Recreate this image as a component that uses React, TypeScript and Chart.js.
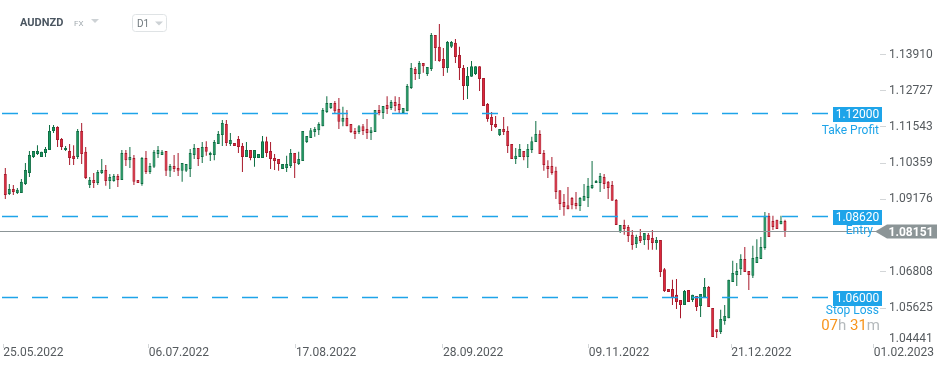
import React, { useEffect, useRef } from 'react';
import { Chart, registerables } from 'chart.js';

Chart.register(...registerables);

// ---- data (daily candles AUDNZD) ----
const opens = [
  1.1001, 1.0935, 1.0952, 1.0939, 1.0939, 1.0968, 1.1004, 1.1056, 1.1066, 1.1056,
  1.1069, 1.1079, 1.1141, 1.1154, 1.1115, 1.1079, 1.1076, 1.1060, 1.1056, 1.1141,
  1.1073, 1.0965, 1.0981, 1.0971, 1.1004, 1.1014, 1.0978, 1.0978, 1.0994, 1.0981,
  1.1069, 1.1046, 1.1053, 1.0981, 1.0968, 1.1053, 1.1007, 1.1024, 1.1066, 1.1063,
  1.1076, 1.1011, 1.1027, 1.1020, 1.1011, 1.1011, 1.1017, 1.1063, 1.1086, 1.1056,
  1.1089, 1.1063, 1.1063, 1.1099, 1.1128, 1.1164, 1.1099, 1.1102, 1.1115, 1.1092,
  1.1056, 1.1079, 1.1053, 1.1053, 1.1053, 1.1108, 1.1076, 1.1053, 1.1050, 1.1017,
  1.1020, 1.1027, 1.1069, 1.1033, 1.1043, 1.1105, 1.1118, 1.1138, 1.1144, 1.1157,
  1.1203, 1.1216, 1.1233, 1.1213, 1.1171, 1.1184, 1.1164, 1.1141, 1.1138, 1.1157,
  1.1148, 1.1135, 1.1138, 1.1210, 1.1200, 1.1226, 1.1216, 1.1236, 1.1229, 1.1200,
  1.1206, 1.1282, 1.1344, 1.1327, 1.1363, 1.1327, 1.1344, 1.1455, 1.1416, 1.1376,
  1.1347, 1.1416, 1.1429, 1.1389, 1.1347, 1.1288, 1.1318, 1.1327, 1.1353, 1.1314,
  1.1229, 1.1187, 1.1164, 1.1128, 1.1148, 1.1141, 1.1099, 1.1050, 1.1056, 1.1076,
  1.1056, 1.1079, 1.1105, 1.1131, 1.1069, 1.1027, 1.1027, 1.1011, 1.0948, 1.0909,
  1.0899, 1.0922, 1.0906, 1.0896, 1.0913, 1.0922, 1.0955, 1.0971, 1.0971, 1.0991,
  1.0975, 1.0965, 1.0916, 1.0811, 1.0834, 1.0828, 1.0802, 1.0772, 1.0798, 1.0785,
  1.0802, 1.0792, 1.0775, 1.0785, 1.0690, 1.0625, 1.0625, 1.0606, 1.0589, 1.0573,
  1.0622, 1.0589, 1.0602, 1.0570, 1.0599, 1.0632, 1.0563, 1.0494, 1.0485, 1.0521,
  1.0530, 1.0648, 1.0671, 1.0690, 1.0723, 1.0684, 1.0668, 1.0710, 1.0723, 1.0759,
  1.0864, 1.0847, 1.0851, 1.0837, 1.0847,
];
const highs = [
  1.1020, 1.0968, 1.0965, 1.0955, 1.0984, 1.1037, 1.1076, 1.1076, 1.1095, 1.1073,
  1.1089, 1.1161, 1.1161, 1.1157, 1.1118, 1.1092, 1.1099, 1.1095, 1.1148, 1.1167,
  1.1089, 1.0991, 1.1004, 1.1014, 1.1050, 1.1030, 1.1001, 1.1001, 1.1001, 1.1079,
  1.1079, 1.1089, 1.1063, 1.0981, 1.1056, 1.1076, 1.1037, 1.1079, 1.1092, 1.1079,
  1.1076, 1.1033, 1.1063, 1.1069, 1.1037, 1.1033, 1.1082, 1.1099, 1.1086, 1.1105,
  1.1108, 1.1073, 1.1112, 1.1141, 1.1177, 1.1177, 1.1135, 1.1102, 1.1125, 1.1102,
  1.1105, 1.1079, 1.1079, 1.1066, 1.1125, 1.1122, 1.1105, 1.1066, 1.1050, 1.1033,
  1.1060, 1.1082, 1.1069, 1.1073, 1.1141, 1.1125, 1.1151, 1.1154, 1.1170, 1.1216,
  1.1255, 1.1233, 1.1239, 1.1249, 1.1220, 1.1210, 1.1164, 1.1151, 1.1161, 1.1164,
  1.1180, 1.1154, 1.1210, 1.1226, 1.1223, 1.1255, 1.1242, 1.1255, 1.1252, 1.1216,
  1.1295, 1.1363, 1.1350, 1.1370, 1.1363, 1.1350, 1.1461, 1.1455, 1.1491, 1.1412,
  1.1435, 1.1435, 1.1442, 1.1416, 1.1357, 1.1350, 1.1370, 1.1353, 1.1353, 1.1314,
  1.1233, 1.1203, 1.1190, 1.1148, 1.1187, 1.1157, 1.1099, 1.1086, 1.1099, 1.1076,
  1.1099, 1.1122, 1.1174, 1.1144, 1.1079, 1.1046, 1.1056, 1.1024, 1.0948, 1.0935,
  1.0958, 1.0926, 1.0942, 1.0926, 1.0968, 1.0988, 1.1043, 1.0981, 1.1004, 1.1001,
  1.0978, 1.0978, 1.0919, 1.0834, 1.0851, 1.0834, 1.0818, 1.0802, 1.0821, 1.0808,
  1.0808, 1.0818, 1.0795, 1.0785, 1.0694, 1.0625, 1.0655, 1.0658, 1.0589, 1.0622,
  1.0622, 1.0606, 1.0602, 1.0609, 1.0661, 1.0635, 1.0563, 1.0494, 1.0557, 1.0573,
  1.0655, 1.0717, 1.0710, 1.0739, 1.0762, 1.0684, 1.0766, 1.0788, 1.0795, 1.0877,
  1.0873, 1.0864, 1.0851, 1.0864, 1.0851,
];
const lows = [
  1.0919, 1.0932, 1.0932, 1.0935, 1.0939, 1.0965, 1.0991, 1.1053, 1.1063, 1.1056,
  1.1056, 1.1079, 1.1135, 1.1089, 1.1079, 1.1076, 1.1030, 1.1030, 1.1050, 1.1033,
  1.0984, 1.0955, 1.0955, 1.0965, 1.1001, 1.0962, 1.0952, 1.0975, 1.0958, 1.0981,
  1.1027, 1.1020, 1.0965, 1.0971, 1.0962, 1.1001, 1.1001, 1.1020, 1.1053, 1.1063,
  1.0994, 1.0991, 1.1007, 1.0994, 1.0975, 1.1007, 1.0991, 1.1050, 1.1027, 1.1037,
  1.1060, 1.1043, 1.1046, 1.1099, 1.1092, 1.1092, 1.1092, 1.1092, 1.1069, 1.1007,
  1.1056, 1.1046, 1.1024, 1.1053, 1.1053, 1.1056, 1.1017, 1.1014, 1.1011, 1.1017,
  1.1007, 1.1020, 1.0988, 1.1030, 1.1043, 1.1102, 1.1118, 1.1122, 1.1128, 1.1157,
  1.1200, 1.1213, 1.1197, 1.1148, 1.1157, 1.1157, 1.1135, 1.1115, 1.1131, 1.1128,
  1.1115, 1.1112, 1.1138, 1.1193, 1.1180, 1.1197, 1.1210, 1.1206, 1.1197, 1.1197,
  1.1206, 1.1278, 1.1308, 1.1311, 1.1331, 1.1321, 1.1337, 1.1370, 1.1367, 1.1321,
  1.1331, 1.1412, 1.1363, 1.1308, 1.1242, 1.1246, 1.1318, 1.1324, 1.1272, 1.1223,
  1.1171, 1.1141, 1.1151, 1.1125, 1.1128, 1.1069, 1.1050, 1.1033, 1.1056, 1.1046,
  1.1020, 1.1069, 1.1105, 1.1066, 1.1011, 1.0988, 1.0998, 1.0919, 1.0883, 1.0864,
  1.0886, 1.0886, 1.0886, 1.0880, 1.0913, 1.0893, 1.0952, 1.0971, 1.0942, 1.0952,
  1.0919, 1.0913, 1.0834, 1.0808, 1.0802, 1.0779, 1.0753, 1.0759, 1.0775, 1.0769,
  1.0753, 1.0753, 1.0753, 1.0664, 1.0615, 1.0615, 1.0573, 1.0560, 1.0530, 1.0573,
  1.0583, 1.0583, 1.0553, 1.0534, 1.0599, 1.0566, 1.0468, 1.0465, 1.0478, 1.0508,
  1.0530, 1.0648, 1.0635, 1.0671, 1.0681, 1.0622, 1.0661, 1.0710, 1.0723, 1.0753,
  1.0795, 1.0818, 1.0821, 1.0837, 1.0795,
];
const closes = [
  1.0932, 1.0952, 1.0942, 1.0949, 1.0975, 1.1014, 1.1063, 1.1076, 1.1076, 1.1073,
  1.1082, 1.1141, 1.1154, 1.1112, 1.1089, 1.1086, 1.1053, 1.1050, 1.1141, 1.1066,
  1.0988, 1.0981, 1.0971, 1.1007, 1.1014, 1.0978, 1.0991, 1.0994, 1.0981, 1.1069,
  1.1046, 1.1056, 1.0975, 1.0971, 1.1053, 1.1007, 1.1027, 1.1073, 1.1079, 1.1073,
  1.1011, 1.1027, 1.1017, 1.1011, 1.1037, 1.1033, 1.1069, 1.1086, 1.1050, 1.1089,
  1.1073, 1.1069, 1.1105, 1.1131, 1.1167, 1.1102, 1.1112, 1.1092, 1.1089, 1.1056,
  1.1079, 1.1053, 1.1079, 1.1066, 1.1108, 1.1069, 1.1050, 1.1043, 1.1033, 1.1033,
  1.1033, 1.1069, 1.1037, 1.1050, 1.1141, 1.1125, 1.1144, 1.1148, 1.1164, 1.1210,
  1.1233, 1.1233, 1.1206, 1.1171, 1.1184, 1.1157, 1.1138, 1.1131, 1.1157, 1.1141,
  1.1135, 1.1144, 1.1210, 1.1200, 1.1223, 1.1213, 1.1236, 1.1223, 1.1210, 1.1216,
  1.1288, 1.1347, 1.1327, 1.1363, 1.1353, 1.1350, 1.1455, 1.1412, 1.1370, 1.1347,
  1.1432, 1.1432, 1.1383, 1.1347, 1.1288, 1.1321, 1.1353, 1.1353, 1.1311, 1.1223,
  1.1180, 1.1161, 1.1154, 1.1148, 1.1138, 1.1092, 1.1050, 1.1060, 1.1082, 1.1056,
  1.1082, 1.1108, 1.1131, 1.1066, 1.1030, 1.1017, 1.1004, 1.0942, 1.0903, 1.0893,
  1.0886, 1.0899, 1.0896, 1.0922, 1.0929, 1.0962, 1.0965, 1.0978, 1.0994, 1.0968,
  1.0955, 1.0913, 1.0834, 1.0834, 1.0821, 1.0798, 1.0769, 1.0795, 1.0782, 1.0808,
  1.0785, 1.0775, 1.0785, 1.0681, 1.0619, 1.0615, 1.0596, 1.0583, 1.0573, 1.0619,
  1.0583, 1.0606, 1.0566, 1.0609, 1.0632, 1.0566, 1.0468, 1.0485, 1.0527, 1.0537,
  1.0655, 1.0677, 1.0684, 1.0723, 1.0681, 1.0671, 1.0726, 1.0730, 1.0762, 1.0864,
  1.0795, 1.0828, 1.0821, 1.0847, 1.0815,
];

// x-axis date labels and the candle slot where each date falls
const dateLabels = ['25.05.2022', '06.07.2022', '17.08.2022', '28.09.2022', '09.11.2022', '21.12.2022', '01.02.2023'];
const dateTickIndex = [-0.5, 35.7, 72.3, 108.9, 145.2, 180.6, 216.1];

// price axis ticks
const priceTicks = [1.05625, 1.06808, 1.09176, 1.10359, 1.11543, 1.12727, 1.13910];
const bottomPriceTick = 1.04441;

// trade levels
const takeProfit = 1.12;
const entryLevel = 1.0862;
const stopLoss = 1.06;
const currentPrice = 1.08151;

const symbolName = 'AUDNZD';
const marketName = 'FX';
const timeframe = 'D1';
const countdownParts = [
  { t: '07', orange: true },
  { t: 'h', orange: false },
  { t: ' ', orange: false },
  { t: '31', orange: true },
  { t: 'm', orange: false },
];

const GREEN = '#1a9a62';
const GREEN_DARK = '#0e6e43';
const RED = '#e2293d';
const RED_DARK = '#a8182a';
const BLUE = '#1ea4e9';
const FONT = 'Roboto, "Noto Sans", sans-serif';

export default function App() {
  const ref = useRef<HTMLCanvasElement | null>(null);

  useEffect(() => {
    document.body.style.margin = '0';
    const canvas = ref.current;
    if (!canvas) return;

    const isUp = (i: number) => closes[i] >= opens[i];
    const wickData = opens.map((_, i) => ({ x: i, y: [lows[i], highs[i]] }));
    const bodyData = opens.map((o, i) => ({ x: i, y: [Math.min(o, closes[i]), Math.max(o, closes[i])] }));

    const overlay = {
      id: 'overlay',
      afterDatasetsDraw(chart: any) {
        const { ctx, scales } = chart;
        const y = scales.y;
        ctx.save();
        const levels = [
          { v: takeProfit, label: 'Take Profit', dy: 17 },
          { v: entryLevel, label: 'Entry', dy: 14 },
          { v: stopLoss, label: 'Stop Loss', dy: 13 },
        ];
        // current price line
        const cy = Math.round(y.getPixelForValue(currentPrice)) + 0.5;
        ctx.strokeStyle = '#8c9597';
        ctx.lineWidth = 1;
        ctx.setLineDash([]);
        ctx.beginPath();
        ctx.moveTo(0, cy);
        ctx.lineTo(876, cy);
        ctx.stroke();

        levels.forEach((l) => {
          const py = Math.round(y.getPixelForValue(l.v)) + 0.5;
          ctx.strokeStyle = BLUE;
          ctx.lineWidth = 1.3;
          ctx.setLineDash([16, 14]);
          ctx.beginPath();
          ctx.moveTo(2, py);
          ctx.lineTo(829, py);
          ctx.stroke();
          ctx.setLineDash([]);
          ctx.fillStyle = BLUE;
          ctx.fillRect(833, py - 6.5, 49, 15);
          ctx.fillStyle = '#ffffff';
          ctx.font = `12px ${FONT}`;
          ctx.textAlign = 'center';
          ctx.textBaseline = 'middle';
          ctx.fillText(l.v.toFixed(5), 857.5, py + 1.5);
          ctx.fillStyle = BLUE;
          ctx.textAlign = 'right';
          ctx.fillText(l.label, l.label === 'Entry' ? 873 : 879, py + l.dy);
        });

        // current price arrow label
        ctx.fillStyle = '#8c9597';
        ctx.beginPath();
        ctx.moveTo(875, cy);
        ctx.lineTo(887, cy - 7);
        ctx.lineTo(937, cy - 7);
        ctx.lineTo(937, cy + 7);
        ctx.lineTo(887, cy + 7);
        ctx.closePath();
        ctx.fill();
        ctx.fillStyle = '#ffffff';
        ctx.font = `bold 12px ${FONT}`;
        ctx.textAlign = 'center';
        ctx.textBaseline = 'middle';
        ctx.fillText(currentPrice.toFixed(5), 911, cy + 1);

        // countdown
        const sy = Math.round(y.getPixelForValue(stopLoss)) + 0.5;
        ctx.font = `15px ${FONT}`;
        ctx.textAlign = 'left';
        let total = 0;
        countdownParts.forEach((p) => (total += ctx.measureText(p.t).width));
        let cx = 880 - total;
        countdownParts.forEach((p) => {
          ctx.fillStyle = p.orange ? '#f7941d' : '#b4b9bc';
          ctx.fillText(p.t, cx, sy + 29);
          cx += ctx.measureText(p.t).width;
        });

        // bottom price label (clamped above the date row)
        ctx.fillStyle = '#555a5e';
        ctx.font = `12px ${FONT}`;
        ctx.textAlign = 'left';
        ctx.fillText(bottomPriceTick.toFixed(5), 889, Math.min(y.getPixelForValue(bottomPriceTick), 339));

        // header
        ctx.fillStyle = '#4b5661';
        ctx.font = `bold 11px ${FONT}`;
        ctx.textBaseline = 'alphabetic';
        ctx.fillText(symbolName, 20, 26);
        ctx.fillStyle = '#a3abb0';
        ctx.font = `8px ${FONT}`;
        ctx.fillText(marketName, 74, 26);
        ctx.fillStyle = '#cdd2d5';
        ctx.beginPath();
        ctx.moveTo(91, 19);
        ctx.lineTo(99, 19);
        ctx.lineTo(95, 23);
        ctx.closePath();
        ctx.fill();
        ctx.strokeStyle = '#dfe3e5';
        ctx.lineWidth = 1;
        ctx.beginPath();
        ctx.roundRect(132.5, 14.5, 34, 17, 3);
        ctx.stroke();
        ctx.fillStyle = '#6e777c';
        ctx.font = `10px ${FONT}`;
        ctx.fillText(timeframe, 137, 27);
        ctx.fillStyle = '#cdd2d5';
        ctx.beginPath();
        ctx.moveTo(155, 21.5);
        ctx.lineTo(163, 21.5);
        ctx.lineTo(159, 25.5);
        ctx.closePath();
        ctx.fill();
        ctx.restore();
      },
    };

    const chart = new Chart(canvas, {
      type: 'bar',
      data: {
        datasets: [
          {
            label: 'wick',
            data: wickData as any,
            backgroundColor: opens.map((_, i) => (isUp(i) ? GREEN_DARK : RED_DARK)),
            borderWidth: 0,
            barThickness: 1,
            grouped: false,
            inflateAmount: 0,
            order: 2,
          } as any,
          {
            label: 'body',
            data: bodyData as any,
            backgroundColor: opens.map((_, i) => (isUp(i) ? GREEN : RED)),
            borderColor: opens.map((_, i) => (isUp(i) ? GREEN_DARK : RED_DARK)),
            borderWidth: 1,
            borderSkipped: false,
            barThickness: 3,
            grouped: false,
            inflateAmount: 0,
            order: 1,
          } as any,
        ],
      },
      options: {
        animation: false,
        responsive: false,
        maintainAspectRatio: false,
        devicePixelRatio: 1,
        layout: { padding: 0 },
        plugins: { legend: { display: false }, tooltip: { enabled: false }, title: { display: false } },
        scales: {
          x: {
            type: 'linear',
            min: -1.32,
            max: 217.64,
            offset: false,
            grid: { drawOnChartArea: false, drawTicks: true, tickLength: 4, color: '#d3d6d8', offset: false },
            border: { display: false },
            ticks: {
              autoSkip: false,
              maxRotation: 0,
              align: 'start',
              padding: -2,
              color: '#555a5e',
              font: { family: FONT, size: 12 },
              callback: (v: any) => {
                const k = dateTickIndex.findIndex((d) => Math.abs(d - Number(v)) < 1e-6);
                return k >= 0 ? dateLabels[k] : '';
              },
            },
            afterBuildTicks: (s: any) => {
              s.ticks = dateTickIndex.map((v) => ({ value: v }));
            },
            afterFit: (s: any) => {
              s.height = 26;
              s.paddingLeft = 0;
              s.paddingRight = 0;
              s.paddingTop = 0;
              s.paddingBottom = 0;
            },
          } as any,
          y: {
            type: 'linear',
            position: 'right',
            min: 1.04455,
            max: 1.1569,
            grid: { drawOnChartArea: false, drawTicks: true, tickLength: 6, color: '#d3d6d8' },
            border: { display: false },
            ticks: {
              padding: 3,
              color: '#555a5e',
              font: { family: FONT, size: 12 },
              callback: (v: any) => Number(v).toFixed(5),
            },
            afterBuildTicks: (s: any) => {
              s.ticks = priceTicks.map((v) => ({ value: v }));
            },
            afterFit: (s: any) => {
              s.width = 69;
              s.paddingTop = 0;
              s.paddingBottom = 0;
              s.paddingLeft = 0;
              s.paddingRight = 0;
            },
          } as any,
        },
      },
      plugins: [overlay],
    });

    return () => chart.destroy();
  }, []);

  return (
    <div style={{ width: 949, height: 370, background: '#ffffff' }}>
      <canvas ref={ref} width={949} height={370} style={{ display: 'block', width: 949, height: 370 }} />
    </div>
  );
}
